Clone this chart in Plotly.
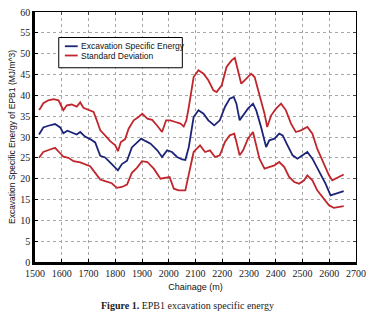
import plotly.graph_objects as go

# ---- data ----
ch_upper = [1515, 1519, 1531, 1550, 1569, 1588, 1600, 1606, 1619, 1637, 1656, 1669, 1681, 1700, 1719, 1731,
            1744, 1762, 1781, 1800, 1810, 1821, 1837, 1850, 1869, 1887, 1901, 1920, 1938, 1957, 1975, 1990,
            2006, 2025, 2044, 2056, 2066, 2075, 2093, 2111, 2130, 2148, 2167, 2179, 2198, 2216, 2235, 2247,
            2259, 2271, 2290, 2308, 2321, 2339, 2358, 2368, 2383, 2401, 2420, 2438, 2457, 2475, 2494, 2518,
            2537, 2555, 2580, 2599, 2611, 2629, 2654]
sd_upper = [36.5, 36.8, 38.1, 38.8, 39.1, 38.8, 37.2, 36.4, 37.6, 37.8, 37.3, 38.3, 37.0, 36.4, 36.0, 34.0,
            31.6, 30.4, 29.0, 28.0, 26.6, 28.8, 29.5, 32.0, 34.0, 34.8, 35.6, 34.4, 34.1, 32.7, 31.2, 34.0,
            34.0, 33.6, 33.2, 32.5, 34.0, 37.2, 44.4, 46.0, 45.2, 43.6, 41.2, 40.8, 42.4, 46.8, 48.4, 49.0,
            46.0, 42.8, 44.0, 45.2, 44.4, 40.4, 35.6, 32.4, 35.2, 36.8, 38.0, 36.4, 33.2, 31.2, 31.6, 32.4,
            30.8, 27.2, 23.6, 20.8, 19.6, 20.2, 21.0]

ch_mean = [1515, 1531, 1550, 1575, 1594, 1606, 1621, 1644, 1656, 1669, 1687, 1706, 1725, 1744, 1762, 1787,
           1810, 1825, 1844, 1862, 1881, 1897, 1914, 1932, 1957, 1975, 1994, 2012, 2031, 2050, 2062, 2075,
           2093, 2111, 2130, 2148, 2170, 2191, 2210, 2228, 2243, 2253, 2265, 2278, 2296, 2315, 2327, 2345,
           2364, 2376, 2395, 2413, 2426, 2444, 2463, 2481, 2500, 2518, 2537, 2561, 2586, 2605, 2629, 2654]
ese_mean = [30.6, 32.3, 32.7, 33.1, 32.3, 30.9, 31.5, 30.9, 30.6, 31.2, 30.1, 29.5, 28.7, 25.5, 25.1, 23.5,
            22.0, 23.5, 24.3, 27.5, 28.7, 29.6, 29.0, 28.4, 26.8, 25.2, 26.8, 26.4, 25.2, 24.6, 24.5, 27.6,
            34.8, 36.4, 35.6, 34.0, 32.8, 34.0, 37.2, 39.2, 39.6, 38.0, 34.0, 35.2, 36.8, 38.0, 36.4, 32.4,
            27.6, 29.2, 29.6, 30.8, 30.4, 28.0, 25.6, 24.8, 25.6, 26.4, 24.8, 22.0, 18.8, 16.0, 16.4, 17.0]

ch_lower = [1515, 1531, 1556, 1575, 1594, 1606, 1625, 1644, 1669, 1687, 1706, 1725, 1744, 1762, 1787, 1806,
            1825, 1844, 1862, 1881, 1900, 1920, 1944, 1969, 1988, 2003, 2019, 2037, 2062, 2075, 2093, 2117,
            2136, 2154, 2173, 2191, 2210, 2228, 2245, 2253, 2265, 2278, 2296, 2315, 2327, 2339, 2358, 2376,
            2395, 2413, 2432, 2450, 2469, 2487, 2506, 2518, 2537, 2555, 2580, 2599, 2617, 2642, 2654]
sd_lower = [25.0, 26.4, 27.0, 27.4, 26.1, 25.3, 25.0, 24.2, 23.9, 23.4, 23.0, 21.4, 19.8, 19.4, 18.9, 17.8,
            18.0, 18.6, 21.4, 22.6, 24.2, 24.0, 22.4, 20.0, 20.2, 20.4, 17.6, 17.2, 17.2, 20.8, 26.4, 28.0,
            26.4, 26.8, 25.2, 25.6, 28.8, 30.4, 30.8, 28.8, 25.6, 26.8, 29.6, 31.2, 28.0, 24.8, 22.4, 22.8,
            23.2, 24.0, 22.8, 20.4, 19.2, 18.8, 19.6, 20.8, 19.6, 17.2, 15.2, 13.6, 13.0, 13.2, 13.4]

x_ticks = [1500, 1600, 1700, 1800, 1900, 2000, 2100, 2200, 2300, 2400, 2500, 2600, 2700]
y_ticks = [0, 5, 10, 15, 20, 25, 30, 35, 40, 45, 50, 55, 60]
legend_labels = ["Excavation Specific Energy", "Standard Deviation"]

BLUE = "#1c2478"
RED = "#c0262c"

fig = go.Figure()
fig.add_trace(go.Scatter(x=ch_upper, y=sd_upper, mode="lines", line=dict(color=RED, width=1.8),
                         name=legend_labels[1], showlegend=False))
fig.add_trace(go.Scatter(x=ch_mean, y=ese_mean, mode="lines", line=dict(color=BLUE, width=1.8),
                         name=legend_labels[0], showlegend=False))
fig.add_trace(go.Scatter(x=ch_lower, y=sd_lower, mode="lines", line=dict(color=RED, width=1.8),
                         name=legend_labels[1], showlegend=False))

tickfont = dict(family="Liberation Serif, Times New Roman, serif", size=10, color="#222")
fig.update_layout(
    width=372, height=315,
    margin=dict(l=35, r=13, t=6, b=53),
    paper_bgcolor="white", plot_bgcolor="white",
    showlegend=False,
    xaxis=dict(range=[1500, 2700], tickvals=x_ticks, ticktext=[str(v) for v in x_ticks],
               showgrid=True, gridcolor="#a8a8a8", griddash="dot", gridwidth=1,
               showline=True, linecolor="black", linewidth=2.5, mirror=False,
               ticks="inside", ticklen=3, tickcolor="black", tickfont=tickfont,
               zeroline=False,
               title=dict(text="Chainage (m)", font=dict(family="Liberation Sans, Arial", size=9, color="#111"),
                          standoff=6)),
    yaxis=dict(range=[0, 60], tickvals=y_ticks, ticktext=[str(v) for v in y_ticks],
               showgrid=True, gridcolor="#a8a8a8", griddash="dot", gridwidth=1,
               showline=True, linecolor="black", linewidth=2.5, mirror=False,
               ticks="inside", ticklen=3, tickcolor="black", tickfont=tickfont,
               zeroline=False,
               title=dict(text="Excavation Specific Energy of EPB1 (MJ/m^3)",
                          font=dict(family="Liberation Sans, Arial", size=8.5, color="#111"), standoff=4)),
    xaxis2=dict(range=[1500, 2700], overlaying="x", side="top", tickvals=x_ticks, showticklabels=False,
                showgrid=False, showline=True, linecolor="black", linewidth=1, ticks="inside", ticklen=3,
                zeroline=False),
    yaxis2=dict(range=[0, 60], overlaying="y", side="right", tickvals=y_ticks, showticklabels=False,
                showgrid=False, showline=True, linecolor="black", linewidth=1, ticks="inside", ticklen=3,
                zeroline=False),
)
# invisible trace to activate mirror axes
fig.add_trace(go.Scatter(x=[None], y=[None], xaxis="x2", yaxis="y2", showlegend=False, hoverinfo="skip"))

# manual legend box (matlab style)
lx0, lx1, ly0, ly1 = 0.074, 0.459, 0.777, 0.898
fig.add_shape(type="rect", xref="paper", yref="paper", x0=lx0, x1=lx1, y0=ly0, y1=ly1,
              line=dict(color="black", width=1), fillcolor="white", layer="above")
for i, (lab, col) in enumerate(zip(legend_labels, [BLUE, RED])):
    yy = 0.863 - i * 0.037
    fig.add_shape(type="line", xref="paper", yref="paper", x0=0.093, x1=0.133, y0=yy, y1=yy,
                  line=dict(color=col, width=1.8), layer="above")
    fig.add_annotation(xref="paper", yref="paper", x=0.138, y=yy, text=lab, showarrow=False,
                       xanchor="left", yanchor="middle",
                       font=dict(family="Liberation Sans, Arial", size=8.5, color="#111"))

# caption
fig.add_annotation(xref="paper", yref="paper", x=0.475, y=-0.175, yanchor="middle", xanchor="center",
                   text="<b>Figure 1.</b> EPB1 excavation specific energy", showarrow=False,
                   font=dict(family="Liberation Serif, Times New Roman, serif", size=10, color="#222"))

fig.write_html("out.html", config={"displayModeBar": False},
               post_script="document.body.style.margin='0';document.body.style.overflow='hidden';")
